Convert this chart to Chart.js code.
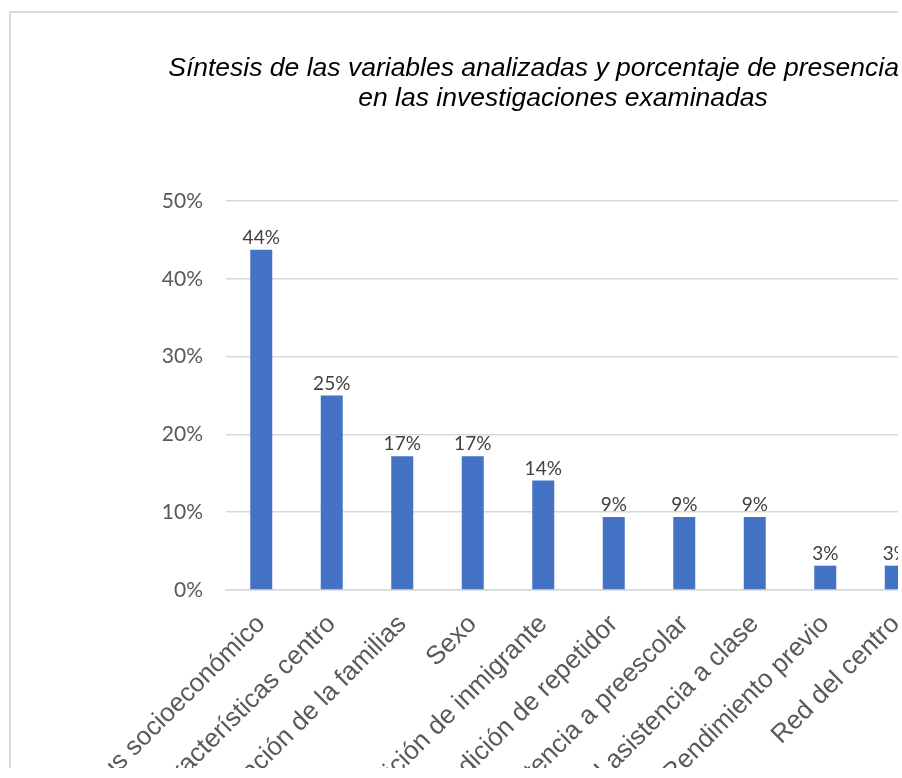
<!DOCTYPE html>
<html>
<head>
<meta charset="utf-8">
<script src="https://cdn.jsdelivr.net/npm/chart.js@4.4.1/dist/chart.umd.min.js"></script>
<style>
  html, body { margin: 0; padding: 0; background: #ffffff; }
  body { width: 902px; height: 778px; overflow: hidden; position: relative; }
  #frame {
    position: absolute; left: 9px; top: 11px;
    width: 889px; height: 757px;
    border-top: 2px solid #d9d9d9; border-left: 2px solid #d9d9d9;
    overflow: hidden; box-sizing: border-box;
  }
  #chart { display: block; }
</style>
</head>
<body>
<div id="frame"><canvas id="chart" width="1104" height="900" style="width:1104px;height:900px"></canvas></div>
<script>
// ---- Data ----
const titleLines = [
  'Síntesis de las variables analizadas y porcentaje de presencia        ',
  'en las investigaciones examinadas'
];
const categories = [
  'Estatus socioeconómico',
  'Características centro',
  'Educación de la familias',
  'Sexo',
  'Condición de inmigrante',
  'Condición de repetidor',
  'Asistencia a preescolar',
  'Nivel asistencia a clase',
  'Rendimiento previo',
  'Red del centro'
];
const presence = [43.75, 25, 17.19, 17.19, 14.06, 9.38, 9.38, 9.38, 3.13, 3.13];
const yTicks = [0, 10, 20, 30, 40, 50];

// ---- Data labels plugin ----
const barLabels = {
  id: 'barLabels',
  afterDatasetsDraw(chart) {
    const ctx = chart.ctx;
    const meta = chart.getDatasetMeta(0);
    const data = chart.data.datasets[0].data;
    ctx.save();
    ctx.font = '19px Lato, "Open Sans", sans-serif';
    ctx.fillStyle = '#404040';
    ctx.textAlign = 'center';
    ctx.textBaseline = 'middle';
    meta.data.forEach((bar, i) => {
      ctx.fillText(Math.round(data[i]) + '%', bar.x, bar.y - 12);
    });
    ctx.restore();
  }
};

new Chart(document.getElementById('chart'), {
  type: 'bar',
  data: {
    labels: categories,
    datasets: [{
      data: presence,
      backgroundColor: '#4472C4',
      borderWidth: 0,
      barPercentage: 0.312,
      categoryPercentage: 1.0
    }]
  },
  options: {
    responsive: false,
    animation: false,
    devicePixelRatio: 1,
    layout: { padding: 0 },
    plugins: {
      legend: { display: false },
      tooltip: { enabled: false },
      title: {
        display: true,
        text: titleLines,
        color: '#000000',
        font: { family: '"Liberation Sans", Arial, sans-serif', size: 26.5, style: 'italic', weight: 'normal', lineHeight: '30px' },
        padding: { top: 41, bottom: 87 }
      }
    },
    scales: {
      x: {
        grid: { display: false, drawTicks: false },
        border: { display: true, color: '#d9d9d9', width: 1.5 },
        ticks: {
          autoSkip: false,
          minRotation: 45,
          maxRotation: 45,
          padding: 19,
          color: '#595959',
          font: { family: '"Liberation Sans", Arial, sans-serif', size: 26 }
        },
        afterFit(scale) { scale.height = 323; }
      },
      y: {
        min: 0,
        max: 50,
        afterBuildTicks(scale) { scale.ticks = yTicks.map(v => ({ value: v })); },
        grid: { color: '#d9d9d9', lineWidth: 1.5, drawTicks: false },
        border: { display: false },
        ticks: {
          padding: 23,
          color: '#595959',
          font: { family: 'Lato, "Open Sans", sans-serif', size: 21 },
          callback: (v) => v + '%'
        },
        afterFit(scale) { scale.width = 215; }
      },
      yRight: {
        position: 'right',
        display: true,
        grid: { display: false, drawTicks: false },
        border: { display: false },
        ticks: { display: false },
        afterFit(scale) { scale.width = 184; }
      }
    }
  },
  plugins: [barLabels]
});
</script>
</body>
</html>
